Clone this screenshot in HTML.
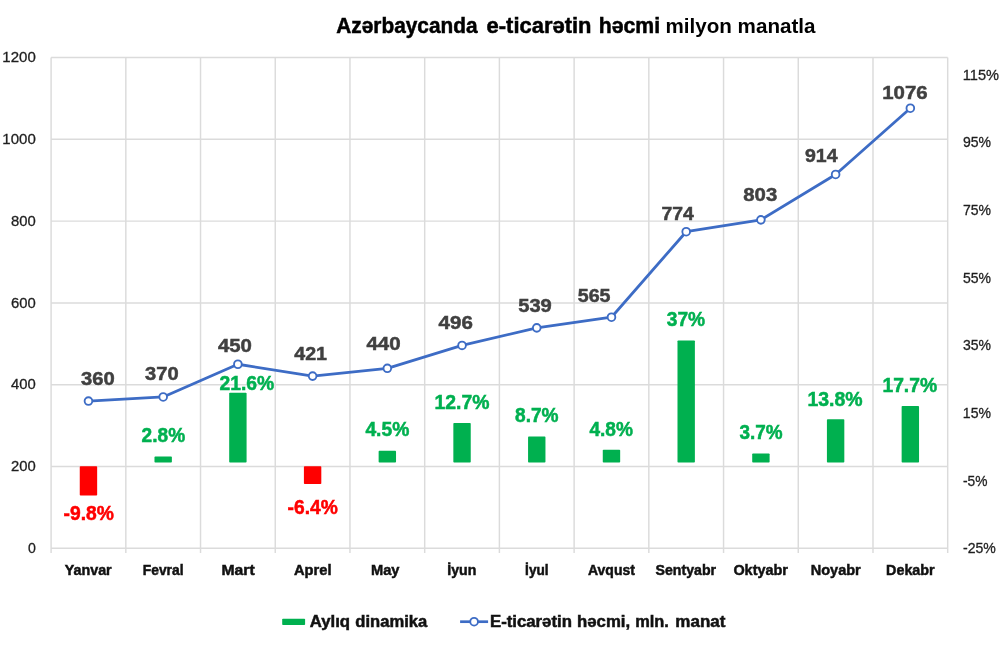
<!DOCTYPE html><html lang="az"><head><meta charset="utf-8"><title>Azərbaycanda e-ticarətin həcmi</title>
<style>html,body{margin:0;padding:0;background:#fff}svg{display:block}text{font-family:"Liberation Sans",sans-serif}</style></head><body>
<svg width="1002" height="646" viewBox="0 0 1002 646">
<defs><filter id="soft" x="-20%" y="-20%" width="140%" height="140%"><feGaussianBlur stdDeviation="0.7"/></filter></defs>
<rect width="1002" height="646" fill="#ffffff"/>
<g stroke="#dbdbdb" stroke-width="1.45" fill="none">
<line x1="51.10" y1="57.50" x2="947.70" y2="57.50"/>
<line x1="51.10" y1="139.30" x2="947.70" y2="139.30"/>
<line x1="51.10" y1="221.10" x2="947.70" y2="221.10"/>
<line x1="51.10" y1="302.90" x2="947.70" y2="302.90"/>
<line x1="51.10" y1="384.70" x2="947.70" y2="384.70"/>
<line x1="51.10" y1="466.50" x2="947.70" y2="466.50"/>
<line x1="51.10" y1="548.30" x2="947.70" y2="548.30"/>
<line x1="51.10" y1="57.50" x2="51.10" y2="552.90"/>
<line x1="125.82" y1="57.50" x2="125.82" y2="552.90"/>
<line x1="200.53" y1="57.50" x2="200.53" y2="552.90"/>
<line x1="275.25" y1="57.50" x2="275.25" y2="552.90"/>
<line x1="349.97" y1="57.50" x2="349.97" y2="552.90"/>
<line x1="424.68" y1="57.50" x2="424.68" y2="552.90"/>
<line x1="499.40" y1="57.50" x2="499.40" y2="552.90"/>
<line x1="574.12" y1="57.50" x2="574.12" y2="552.90"/>
<line x1="648.83" y1="57.50" x2="648.83" y2="552.90"/>
<line x1="723.55" y1="57.50" x2="723.55" y2="552.90"/>
<line x1="798.27" y1="57.50" x2="798.27" y2="552.90"/>
<line x1="872.98" y1="57.50" x2="872.98" y2="552.90"/>
<line x1="947.70" y1="57.50" x2="947.70" y2="552.90"/>
</g>
<g filter="url(#soft)">
<rect x="79.76" y="466.20" width="17.4" height="29.35" rx="0.8" fill="#FF0000"/>
<rect x="154.48" y="456.60" width="17.4" height="5.90" rx="0.8" fill="#00B050"/>
<rect x="229.19" y="392.81" width="17.4" height="69.69" rx="0.8" fill="#00B050"/>
<rect x="303.91" y="466.20" width="17.4" height="17.82" rx="0.8" fill="#FF0000"/>
<rect x="378.63" y="450.83" width="17.4" height="11.67" rx="0.8" fill="#00B050"/>
<rect x="453.34" y="423.01" width="17.4" height="39.49" rx="0.8" fill="#00B050"/>
<rect x="528.06" y="436.58" width="17.4" height="25.92" rx="0.8" fill="#00B050"/>
<rect x="602.77" y="449.81" width="17.4" height="12.69" rx="0.8" fill="#00B050"/>
<rect x="677.49" y="340.56" width="17.4" height="121.94" rx="0.8" fill="#00B050"/>
<rect x="752.21" y="453.55" width="17.4" height="8.95" rx="0.8" fill="#00B050"/>
<rect x="826.92" y="419.28" width="17.4" height="43.22" rx="0.8" fill="#00B050"/>
<rect x="901.64" y="406.04" width="17.4" height="56.46" rx="0.8" fill="#00B050"/>
</g>
<polyline points="88.46,401.06 163.18,396.97 237.89,364.25 312.61,376.11 387.33,368.34 462.04,345.44 536.76,327.85 611.48,317.21 686.19,231.73 760.91,219.87 835.62,174.47 910.34,108.22" fill="none" stroke="#3D6CC5" stroke-width="2.8" stroke-linejoin="round" stroke-linecap="round"/>
<circle cx="88.46" cy="401.06" r="3.85" fill="#ffffff" stroke="#3D6CC5" stroke-width="1.85"/>
<circle cx="163.18" cy="396.97" r="3.85" fill="#ffffff" stroke="#3D6CC5" stroke-width="1.85"/>
<circle cx="237.89" cy="364.25" r="3.85" fill="#ffffff" stroke="#3D6CC5" stroke-width="1.85"/>
<circle cx="312.61" cy="376.11" r="3.85" fill="#ffffff" stroke="#3D6CC5" stroke-width="1.85"/>
<circle cx="387.33" cy="368.34" r="3.85" fill="#ffffff" stroke="#3D6CC5" stroke-width="1.85"/>
<circle cx="462.04" cy="345.44" r="3.85" fill="#ffffff" stroke="#3D6CC5" stroke-width="1.85"/>
<circle cx="536.76" cy="327.85" r="3.85" fill="#ffffff" stroke="#3D6CC5" stroke-width="1.85"/>
<circle cx="611.48" cy="317.21" r="3.85" fill="#ffffff" stroke="#3D6CC5" stroke-width="1.85"/>
<circle cx="686.19" cy="231.73" r="3.85" fill="#ffffff" stroke="#3D6CC5" stroke-width="1.85"/>
<circle cx="760.91" cy="219.87" r="3.85" fill="#ffffff" stroke="#3D6CC5" stroke-width="1.85"/>
<circle cx="835.62" cy="174.47" r="3.85" fill="#ffffff" stroke="#3D6CC5" stroke-width="1.85"/>
<circle cx="910.34" cy="108.22" r="3.85" fill="#ffffff" stroke="#3D6CC5" stroke-width="1.85"/>
<rect x="282.2" y="618.7" width="22.9" height="6.3" rx="0.8" fill="#00B050" filter="url(#soft)"/>
<line x1="460.1" y1="621.7" x2="488.1" y2="621.7" stroke="#3D6CC5" stroke-width="2.7"/>
<circle cx="474.1" cy="621.7" r="3.85" fill="#ffffff" stroke="#3D6CC5" stroke-width="1.85"/>
<text transform="translate(81.10 385.30) scale(1.0632 1)" font-size="19.0" font-weight="bold" fill="#404040" stroke="#404040" stroke-width="0.5">360</text>
<text transform="translate(145.10 379.90) scale(1.0599 1)" font-size="19.0" font-weight="bold" fill="#404040" stroke="#404040" stroke-width="0.5">370</text>
<text transform="translate(217.90 352.00) scale(1.0728 1)" font-size="19.0" font-weight="bold" fill="#404040" stroke="#404040" stroke-width="0.5">450</text>
<text transform="translate(294.30 359.50) scale(1.0332 1)" font-size="19.0" font-weight="bold" fill="#404040" stroke="#404040" stroke-width="0.5">421</text>
<text transform="translate(366.40 349.80) scale(1.0792 1)" font-size="19.0" font-weight="bold" fill="#404040" stroke="#404040" stroke-width="0.5">440</text>
<text transform="translate(438.60 328.60) scale(1.0792 1)" font-size="19.0" font-weight="bold" fill="#404040" stroke="#404040" stroke-width="0.5">496</text>
<text transform="translate(518.20 312.30) scale(1.0599 1)" font-size="19.0" font-weight="bold" fill="#404040" stroke="#404040" stroke-width="0.5">539</text>
<text transform="translate(577.80 302.20) scale(1.0332 1)" font-size="19.0" font-weight="bold" fill="#404040" stroke="#404040" stroke-width="0.5">565</text>
<text transform="translate(661.50 219.60) scale(1.0207 1)" font-size="19.0" font-weight="bold" fill="#404040" stroke="#404040" stroke-width="0.5">774</text>
<text transform="translate(743.30 201.20) scale(1.0696 1)" font-size="19.0" font-weight="bold" fill="#404040" stroke="#404040" stroke-width="0.5">803</text>
<text transform="translate(805.00 162.10) scale(1.0270 1)" font-size="19.0" font-weight="bold" fill="#404040" stroke="#404040" stroke-width="0.5">914</text>
<text transform="translate(882.23 99.30) scale(1.0737 1)" font-size="19.0" font-weight="bold" fill="#404040" stroke="#404040" stroke-width="0.5">1076</text>
<text transform="translate(63.50 519.90) scale(0.9938 1)" font-size="19.4" font-weight="bold" fill="#FF0000" stroke="#FF0000" stroke-width="0.5">-9.8%</text>
<text transform="translate(141.60 441.70) scale(0.9851 1)" font-size="19.4" font-weight="bold" fill="#00B050" stroke="#00B050" stroke-width="0.5">2.8%</text>
<text transform="translate(219.50 390.20) scale(0.9956 1)" font-size="19.4" font-weight="bold" fill="#00B050" stroke="#00B050" stroke-width="0.5">21.6%</text>
<text transform="translate(287.60 513.80) scale(0.9898 1)" font-size="19.4" font-weight="bold" fill="#FF0000" stroke="#FF0000" stroke-width="0.5">-6.4%</text>
<text transform="translate(365.40 436.40) scale(0.9942 1)" font-size="19.4" font-weight="bold" fill="#00B050" stroke="#00B050" stroke-width="0.5">4.5%</text>
<text transform="translate(434.50 408.50) scale(0.9993 1)" font-size="19.4" font-weight="bold" fill="#00B050" stroke="#00B050" stroke-width="0.5">12.7%</text>
<text transform="translate(515.00 422.20) scale(0.9851 1)" font-size="19.4" font-weight="bold" fill="#00B050" stroke="#00B050" stroke-width="0.5">8.7%</text>
<text transform="translate(589.40 435.70) scale(0.9851 1)" font-size="19.4" font-weight="bold" fill="#00B050" stroke="#00B050" stroke-width="0.5">4.8%</text>
<text transform="translate(666.80 326.10) scale(0.9879 1)" font-size="19.4" font-weight="bold" fill="#00B050" stroke="#00B050" stroke-width="0.5">37%</text>
<text transform="translate(739.50 439.10) scale(0.9760 1)" font-size="19.4" font-weight="bold" fill="#00B050" stroke="#00B050" stroke-width="0.5">3.7%</text>
<text transform="translate(807.40 405.70) scale(1.0030 1)" font-size="19.4" font-weight="bold" fill="#00B050" stroke="#00B050" stroke-width="0.5">13.8%</text>
<text transform="translate(882.40 391.60) scale(0.9955 1)" font-size="19.4" font-weight="bold" fill="#00B050" stroke="#00B050" stroke-width="0.5">17.7%</text>
<text transform="translate(64.80 574.90) scale(0.9719 1)" font-size="14.7" font-weight="bold" fill="#111111" stroke="#111111" stroke-width="0.5">Yanvar</text>
<text transform="translate(142.80 574.90) scale(0.9400 1)" font-size="14.7" font-weight="bold" fill="#111111" stroke="#111111" stroke-width="0.5">Fevral</text>
<text transform="translate(221.50 574.90) scale(1.0701 1)" font-size="14.7" font-weight="bold" fill="#111111" stroke="#111111" stroke-width="0.5">Mart</text>
<text transform="translate(294.00 574.90) scale(0.9983 1)" font-size="14.7" font-weight="bold" fill="#111111" stroke="#111111" stroke-width="0.5">Aprel</text>
<text transform="translate(371.00 574.90) scale(0.9965 1)" font-size="14.7" font-weight="bold" fill="#111111" stroke="#111111" stroke-width="0.5">May</text>
<text transform="translate(447.30 574.90) scale(0.9596 1)" font-size="14.7" font-weight="bold" fill="#111111" stroke="#111111" stroke-width="0.5">İyun</text>
<text transform="translate(525.10 574.90) scale(0.9278 1)" font-size="14.7" font-weight="bold" fill="#111111" stroke="#111111" stroke-width="0.5">İyul</text>
<text transform="translate(588.00 574.90) scale(0.9525 1)" font-size="14.7" font-weight="bold" fill="#111111" stroke="#111111" stroke-width="0.5">Avqust</text>
<text transform="translate(655.60 574.90) scale(0.9614 1)" font-size="14.7" font-weight="bold" fill="#111111" stroke="#111111" stroke-width="0.5">Sentyabr</text>
<text transform="translate(733.40 574.90) scale(0.9822 1)" font-size="14.7" font-weight="bold" fill="#111111" stroke="#111111" stroke-width="0.5">Oktyabr</text>
<text transform="translate(810.70 574.90) scale(0.9885 1)" font-size="14.7" font-weight="bold" fill="#111111" stroke="#111111" stroke-width="0.5">Noyabr</text>
<text transform="translate(886.10 574.90) scale(0.9744 1)" font-size="14.7" font-weight="bold" fill="#111111" stroke="#111111" stroke-width="0.5">Dekabr</text>
<text transform="translate(2.36 62.25) scale(1.0355 1)" font-size="14.5" fill="#1f1f1f" stroke="#1f1f1f" stroke-width="0.3">1200</text>
<text transform="translate(2.36 144.05) scale(1.0355 1)" font-size="14.5" fill="#1f1f1f" stroke="#1f1f1f" stroke-width="0.3">1000</text>
<text transform="translate(11.00 225.85) scale(1.0237 1)" font-size="14.5" fill="#1f1f1f" stroke="#1f1f1f" stroke-width="0.3">800</text>
<text transform="translate(11.00 307.65) scale(1.0237 1)" font-size="14.5" fill="#1f1f1f" stroke="#1f1f1f" stroke-width="0.3">600</text>
<text transform="translate(11.00 389.45) scale(1.0237 1)" font-size="14.5" fill="#1f1f1f" stroke="#1f1f1f" stroke-width="0.3">400</text>
<text transform="translate(11.00 471.25) scale(1.0237 1)" font-size="14.5" fill="#1f1f1f" stroke="#1f1f1f" stroke-width="0.3">200</text>
<text transform="translate(27.90 553.05) scale(0.9750 1)" font-size="14.5" fill="#1f1f1f" stroke="#1f1f1f" stroke-width="0.3">0</text>
<text transform="translate(962.79 79.50) scale(1.0052 1)" font-size="14.5" fill="#1f1f1f" stroke="#1f1f1f" stroke-width="0.3">115%</text>
<text transform="translate(962.90 147.21) scale(0.9681 1)" font-size="14.5" fill="#1f1f1f" stroke="#1f1f1f" stroke-width="0.3">95%</text>
<text transform="translate(962.90 214.92) scale(0.9681 1)" font-size="14.5" fill="#1f1f1f" stroke="#1f1f1f" stroke-width="0.3">75%</text>
<text transform="translate(962.90 282.63) scale(0.9681 1)" font-size="14.5" fill="#1f1f1f" stroke="#1f1f1f" stroke-width="0.3">55%</text>
<text transform="translate(962.90 350.34) scale(0.9681 1)" font-size="14.5" fill="#1f1f1f" stroke="#1f1f1f" stroke-width="0.3">35%</text>
<text transform="translate(962.83 418.05) scale(0.9705 1)" font-size="14.5" fill="#1f1f1f" stroke="#1f1f1f" stroke-width="0.3">15%</text>
<text transform="translate(963.00 485.76) scale(0.9501 1)" font-size="14.5" fill="#1f1f1f" stroke="#1f1f1f" stroke-width="0.3">-5%</text>
<text transform="translate(963.00 553.47) scale(0.9718 1)" font-size="14.5" fill="#1f1f1f" stroke="#1f1f1f" stroke-width="0.3">-25%</text>
<text transform="translate(336.30 32.90) scale(0.9730 1)" font-size="21.4" font-weight="bold" fill="#000000" stroke="#000000" stroke-width="0.5">Azərbaycanda</text>
<text transform="translate(486.60 32.90) scale(1.0260 1)" font-size="21.4" font-weight="bold" fill="#000000" stroke="#000000" stroke-width="0.5">e-ticarətin</text>
<text transform="translate(598.81 32.90) scale(0.9920 1)" font-size="21.4" font-weight="bold" fill="#000000" stroke="#000000" stroke-width="0.5">həcmi</text>
<text transform="translate(665.49 33.10) scale(1.0058 1)" font-size="20.5" font-weight="bold" fill="#000000">milyon manatla</text>
<text transform="translate(309.80 627.10) scale(1.0464 1)" font-size="16.0" font-weight="bold" fill="#111111" stroke="#111111" stroke-width="0.5">Aylıq</text>
<text transform="translate(355.30 627.10) scale(1.0380 1)" font-size="16.0" font-weight="bold" fill="#111111" stroke="#111111" stroke-width="0.5">dinamika</text>
<text transform="translate(489.95 627.10) scale(1.0488 1)" font-size="16.0" font-weight="bold" fill="#111111" stroke="#111111" stroke-width="0.5">E-ticarətin</text>
<text transform="translate(577.05 627.10) scale(1.0479 1)" font-size="16.0" font-weight="bold" fill="#111111" stroke="#111111" stroke-width="0.5">həcmi,</text>
<text transform="translate(635.18 627.10) scale(1.0240 1)" font-size="16.0" font-weight="bold" fill="#111111" stroke="#111111" stroke-width="0.5">mln.</text>
<text transform="translate(675.34 627.10) scale(1.0620 1)" font-size="16.0" font-weight="bold" fill="#111111" stroke="#111111" stroke-width="0.5">manat</text>
</svg></body></html>
